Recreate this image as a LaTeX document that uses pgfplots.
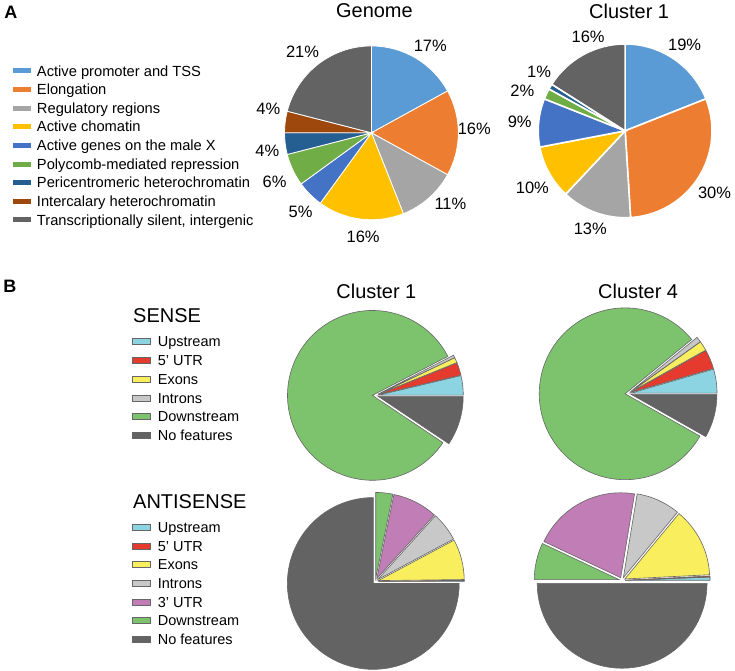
\documentclass[border=0pt]{standalone}
\usepackage{pgfplots}
\pgfplotsset{compat=1.18}
\usepackage{pgfplotstable}
\usepackage{fontspec}
\setmainfont{Liberation Sans}

% panel A palette
\definecolor{aBlue}{HTML}{5B9BD5}
\definecolor{aOrange}{HTML}{ED7D31}
\definecolor{aGray}{HTML}{A5A5A5}
\definecolor{aYellow}{HTML}{FFC000}
\definecolor{aBlueB}{HTML}{4472C4}
\definecolor{aGreen}{HTML}{70AD47}
\definecolor{aNavy}{HTML}{255E91}
\definecolor{aBrown}{HTML}{9E480E}
\definecolor{aDark}{HTML}{636363}
% panel B palette
\definecolor{bCyan}{HTML}{8DD4E3}
\definecolor{bRed}{HTML}{E53A2E}
\definecolor{bYellow}{HTML}{F9EE5D}
\definecolor{bLight}{HTML}{C8C8C8}
\definecolor{bPink}{HTML}{C17DB6}
\definecolor{bGreen}{HTML}{7DC36E}
\definecolor{bDark}{HTML}{636363}

% percentages, dx/dy nudge the label
\pgfplotstableread{
value color dx dy
17 aBlue 5 -4
16 aOrange -3 4
11 aGray 9 8
16 aYellow 5 1
5 aBlueB 4 -4
6 aGreen -1 -4
4 aNavy 1 -5
4 aBrown 2 11
21 aDark -4 -3
}\genome
\pgfplotstableread{
value color dx dy
19 aBlue 0 -2
30 aOrange 0 -5
13 aGray 1 2
10 aYellow 0 -6
9 aBlueB 0 -1
2 aGreen -7 -5
1 aNavy 5 5
16 aDark 14 1
}\clusterA
\pgfplotstableread{
value color
3.7 bCyan
2.4 bRed
1.0 bYellow
0.5 bLight
83.0 bGreen
9.4 bDark
}\senseone
\pgfplotstableread{
value color
4.5 bCyan
3.6 bRed
1.8 bYellow
1.0 bLight
80.9 bGreen
8.2 bDark
}\sensefour
\pgfplotstableread{
value color
0.1 bCyan
0.1 bRed
7.6 bYellow
5.5 bLight
8.5 bPink
3.2 bGreen
75.0 bDark
}\antione
\pgfplotstableread{
value color
0.6 bCyan
0.2 bRed
13.2 bYellow
8.4 bLight
20.6 bPink
7.0 bGreen
50.0 bDark
}\antifour

% #1 table, #2 cx, #3 cy, #4 radius, #5 start angle, #6 direction, #7 explode, #8 style
\newcommand\drawpie[8]{%
  \pgfplotstablegetrowsof{#1}%
  \pgfmathtruncatemacro\nrows{\pgfplotsretval-1}%
  \xdef\curang{#5}%
  \foreach \i in {0,...,\nrows}{%
    \pgfplotstablegetelem{\i}{value}\of{#1}\let\val\pgfplotsretval
    \pgfplotstablegetelem{\i}{color}\of{#1}\let\col\pgfplotsretval
    \pgfmathsetmacro\endang{\curang+#6*3.6*\val}%
    \pgfmathsetmacro\midang{(\curang+\endang)/2}%
    \pgfmathsetmacro\ax{#2+#7*cos(\midang)}%
    \pgfmathsetmacro\ay{#3+#7*sin(\midang)}%
    \filldraw[fill=\col,#8] (axis cs:\ax,\ay) -- ++(\curang:#4pt)
      arc[start angle=\curang,end angle=\endang,radius=#4pt] -- cycle;
    \xdef\curang{\endang}%
  }%
}
% #1 table, #2 cx, #3 cy, #4 label distance, #5 start angle, #6 direction
\newcommand\pielabels[6]{%
  \pgfplotstablegetrowsof{#1}%
  \pgfmathtruncatemacro\nrows{\pgfplotsretval-1}%
  \xdef\curang{#5}%
  \foreach \i in {0,...,\nrows}{%
    \pgfplotstablegetelem{\i}{value}\of{#1}\let\val\pgfplotsretval
    \pgfplotstablegetelem{\i}{dx}\of{#1}\let\ddx\pgfplotsretval
    \pgfplotstablegetelem{\i}{dy}\of{#1}\let\ddy\pgfplotsretval
    \pgfmathsetmacro\endang{\curang+#6*3.6*\val}%
    \pgfmathsetmacro\midang{(\curang+\endang)/2}%
    \pgfmathsetmacro\lx{#2+#4*cos(\midang)+\ddx}%
    \pgfmathsetmacro\ly{#3+#4*sin(\midang)+\ddy}%
    \node[font=\fontsize{16.5}{18}\selectfont] at (axis cs:\lx,\ly) {\val\%};
    \xdef\curang{\endang}%
  }%
}

\begin{document}
\begin{tikzpicture}
\begin{axis}[
    hide axis,
    x=1pt, y=1pt,
    xmin=0, xmax=735, ymin=0, ymax=671,
    scale only axis,
    clip=false,
]
\pgfplotsextra{%
  \path (axis cs:0,0) rectangle (axis cs:735,671);
  % panel letters
  \node[font=\fontsize{18}{20}\selectfont\bfseries] at (axis cs:10,659) {A};
  \node[font=\fontsize{18}{20}\selectfont\bfseries] at (axis cs:9,384) {B};
  % titles
  \node[font=\fontsize{20}{22}\selectfont] at (axis cs:374,660) {Genome};
  \node[font=\fontsize{20}{22}\selectfont] at (axis cs:629,660) {Cluster 1};
  \node[font=\fontsize{20}{22}\selectfont] at (axis cs:376,379) {Cluster 1};
  \node[font=\fontsize{20}{22}\selectfont] at (axis cs:638,379) {Cluster 4};
  \node[anchor=base west,font=\fontsize{20}{22}\selectfont] at (axis cs:129,348) {SENSE};
  \node[anchor=base west,font=\fontsize{20}{22}\selectfont] at (axis cs:129,162) {ANTISENSE};
  % legend A
  \foreach \c/\t [count=\k from 0] in {aBlue/Active promoter and TSS, aOrange/Elongation,
      aGray/Regulatory regions, aYellow/Active chomatin, aBlueB/Active genes on the male X,
      aGreen/Polycomb-mediated repression, aNavy/Pericentromeric heterochromatin,
      aBrown/Intercalary heterochromatin, aDark/{Transcriptionally silent, intergenic}}{%
    \pgfmathsetmacro\ya{600-18.65*\k-2.5}%
    \pgfmathsetmacro\yb{600-18.65*\k+2.5}%
    \pgfmathsetmacro\yt{600-18.65*\k-5.2}%
    \fill[\c] (axis cs:12,\ya) rectangle (axis cs:30,\yb);
    \node[anchor=base west,inner sep=0pt,font=\fontsize{14.7}{17}\selectfont] at (axis cs:36,\yt) {\t};
  }
  % legend B, sense
  \foreach \c/\t [count=\k from 0] in {bCyan/Upstream, bRed/5’ UTR, bYellow/Exons,
      bLight/Introns, bGreen/Downstream, bDark/No features}{%
    \pgfmathsetmacro\ya{329-18.8*\k-3}%
    \pgfmathsetmacro\yb{329-18.8*\k+3}%
    \pgfmathsetmacro\yt{329-18.8*\k-5.2}%
    \filldraw[fill=\c,draw=black!60,line width=0.6pt] (axis cs:132,\ya) rectangle (axis cs:150,\yb);
    \node[anchor=base west,inner sep=0pt,font=\fontsize{14.5}{17}\selectfont] at (axis cs:157,\yt) {\t};
  }
  % legend B, antisense
  \foreach \c/\t [count=\k from 0] in {bCyan/Upstream, bRed/5’ UTR, bYellow/Exons,
      bLight/Introns, bPink/3’ UTR, bGreen/Downstream, bDark/No features}{%
    \pgfmathsetmacro\ya{143-18.7*\k-3}%
    \pgfmathsetmacro\yb{143-18.7*\k+3}%
    \pgfmathsetmacro\yt{143-18.7*\k-5.2}%
    \filldraw[fill=\c,draw=black!60,line width=0.6pt] (axis cs:132,\ya) rectangle (axis cs:150,\yb);
    \node[anchor=base west,inner sep=0pt,font=\fontsize{14.5}{17}\selectfont] at (axis cs:157,\yt) {\t};
  }
  % pies, panel A
  \drawpie{\genome}{371}{538}{87}{90}{-1}{0}{draw=white,line width=0.8pt}
  \pielabels{\genome}{371}{538}{106}{90}{-1}
  \drawpie{\clusterA}{625}{540}{87}{90}{-1}{0}{draw=white,line width=1.6pt}
  \pielabels{\clusterA}{625}{540}{106}{90}{-1}
  % pies, panel B
  \drawpie{\senseone}{375}{275}{85}{0}{1}{3}{draw=black!60,line width=0.6pt}
  \drawpie{\sensefour}{628}{277}{86}{0}{1}{3}{draw=black!60,line width=0.6pt}
  \drawpie{\antione}{375}{89}{86}{0}{1}{3}{draw=black!60,line width=0.6pt}
  \drawpie{\antifour}{622}{90}{85}{0}{1}{3}{draw=black!60,line width=0.6pt}
}
\end{axis}
\end{tikzpicture}
\end{document}
